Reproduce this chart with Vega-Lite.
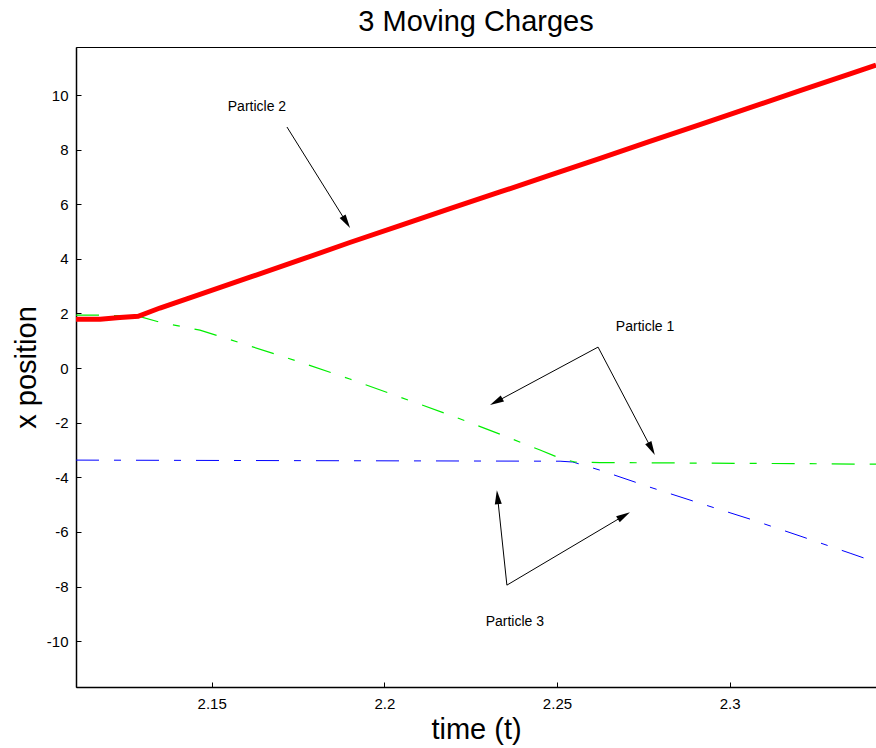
{
  "$schema": "https://vega.github.io/schema/vega-lite/v6.json",
  "width": 800,
  "height": 640,
  "autosize": {"type": "none"},
  "padding": {"left": 76, "top": 47, "right": 0, "bottom": 61},
  "background": "white",
  "config": {
    "font": "Liberation Sans",
    "view": {"stroke": "black", "strokeWidth": 1},
    "axis": {"grid": false, "domainColor": "black", "tickColor": "black", "labelColor": "black", "titleColor": "black", "labelFont": "Liberation Sans", "titleFont": "Liberation Sans", "titleFontWeight": "normal"}
  },
  "title": {"text": "3 Moving Charges", "fontSize": 29, "fontWeight": "normal", "font": "Liberation Sans", "color": "black", "anchor": "middle", "offset": 10},
  "datasets": {
    "lines": [
      {"p": "Particle 2", "t": 2.1107, "x": 1.79},
      {"p": "Particle 2", "t": 2.1177, "x": 1.79},
      {"p": "Particle 2", "t": 2.1234, "x": 1.85},
      {"p": "Particle 2", "t": 2.1287, "x": 1.9},
      {"p": "Particle 2", "t": 2.135, "x": 2.2},
      {"p": "Particle 2", "t": 2.1466, "x": 2.7},
      {"p": "Particle 2", "t": 2.1611, "x": 3.33},
      {"p": "Particle 2", "t": 2.1756, "x": 3.96},
      {"p": "Particle 2", "t": 2.19, "x": 4.6},
      {"p": "Particle 2", "t": 2.2045, "x": 5.22},
      {"p": "Particle 2", "t": 2.219, "x": 5.84},
      {"p": "Particle 2", "t": 2.2335, "x": 6.45},
      {"p": "Particle 2", "t": 2.248, "x": 7.07},
      {"p": "Particle 2", "t": 2.2625, "x": 7.68},
      {"p": "Particle 2", "t": 2.2769, "x": 8.3},
      {"p": "Particle 2", "t": 2.2914, "x": 8.92},
      {"p": "Particle 2", "t": 2.3059, "x": 9.54},
      {"p": "Particle 2", "t": 2.3204, "x": 10.16},
      {"p": "Particle 2", "t": 2.3349, "x": 10.78},
      {"p": "Particle 2", "t": 2.3424, "x": 11.1},
      {"p": "Particle 1", "t": 2.1107, "x": 1.94},
      {"p": "Particle 1", "t": 2.1177, "x": 1.94},
      {"p": "Particle 1", "t": 2.1234, "x": 1.92},
      {"p": "Particle 1", "t": 2.1287, "x": 1.9},
      {"p": "Particle 1", "t": 2.135, "x": 1.68},
      {"p": "Particle 1", "t": 2.1466, "x": 1.39},
      {"p": "Particle 1", "t": 2.1611, "x": 0.81},
      {"p": "Particle 1", "t": 2.1756, "x": 0.22},
      {"p": "Particle 1", "t": 2.19, "x": -0.4},
      {"p": "Particle 1", "t": 2.2045, "x": -1.06},
      {"p": "Particle 1", "t": 2.219, "x": -1.72},
      {"p": "Particle 1", "t": 2.2335, "x": -2.42},
      {"p": "Particle 1", "t": 2.2451, "x": -3.0},
      {"p": "Particle 1", "t": 2.2509, "x": -3.3},
      {"p": "Particle 1", "t": 2.2552, "x": -3.44},
      {"p": "Particle 1", "t": 2.2625, "x": -3.46},
      {"p": "Particle 1", "t": 2.2914, "x": -3.48},
      {"p": "Particle 1", "t": 2.3204, "x": -3.5},
      {"p": "Particle 1", "t": 2.3424, "x": -3.52},
      {"p": "Particle 3", "t": 2.1107, "x": -3.37},
      {"p": "Particle 3", "t": 2.1756, "x": -3.39},
      {"p": "Particle 3", "t": 2.2509, "x": -3.41},
      {"p": "Particle 3", "t": 2.2546, "x": -3.44},
      {"p": "Particle 3", "t": 2.2625, "x": -3.74},
      {"p": "Particle 3", "t": 2.2769, "x": -4.36},
      {"p": "Particle 3", "t": 2.2914, "x": -4.95},
      {"p": "Particle 3", "t": 2.3059, "x": -5.53},
      {"p": "Particle 3", "t": 2.3204, "x": -6.15},
      {"p": "Particle 3", "t": 2.3349, "x": -6.78},
      {"p": "Particle 3", "t": 2.3424, "x": -7.11}
    ],
    "arrows": [
      {"t": 2.1718, "x": 8.83, "t2": 2.189, "x2": 5.344, "angle": 148},
      {"t": 2.2619, "x": 0.769, "t2": 2.2324, "x2": -1.234, "angle": 241.8},
      {"t": 2.2619, "x": 0.769, "t2": 2.2774, "x2": -2.96, "angle": 152.2},
      {"t": 2.2355, "x": -7.949, "t2": 2.2328, "x2": -4.725, "angle": 354},
      {"t": 2.2355, "x": -7.949, "t2": 2.2694, "x2": -5.407, "angle": 59.3}
    ],
    "labels": [
      {"t": 2.1631, "x": 9.56, "label": "Particle 2"},
      {"t": 2.2755, "x": 1.5, "label": "Particle 1"},
      {"t": 2.2378, "x": -9.3, "label": "Particle 3"}
    ]
  },
  "encoding": {
    "x": {"field": "t", "type": "quantitative", "scale": {"domain": [2.1107, 2.3424], "nice": false, "zero": false},
      "axis": {"title": "time (t)", "values": [2.15, 2.2, 2.25, 2.3], "format": "~g", "tickSize": -5, "labelPadding": 14, "labelFontSize": 15, "titleFontSize": 29, "titlePadding": 4, "domainWidth": 1.5}},
    "y": {"field": "x", "type": "quantitative", "scale": {"domain": [-11.68, 11.76], "nice": false, "zero": false},
      "axis": {"title": "x position", "values": [-10, -8, -6, -4, -2, 0, 2, 4, 6, 8, 10], "labelExpr": "datum.value < 0 ? '-' + (-datum.value) : '' + datum.value", "tickSize": -5, "labelPadding": 13, "labelFontSize": 15, "titleFontSize": 29, "titlePadding": 5, "domainWidth": 1.5}}
  },
  "layer": [
    {
      "data": {"name": "lines"},
      "transform": [{"filter": "datum.p == 'Particle 3'"}],
      "mark": {"type": "line", "color": "#0000ff", "strokeWidth": 1, "strokeDash": [23, 15, 7, 15]}
    },
    {
      "data": {"name": "lines"},
      "transform": [{"filter": "datum.p == 'Particle 1'"}],
      "mark": {"type": "line", "color": "#00ee00", "strokeWidth": 1.2, "strokeDash": [23, 15, 7, 15]}
    },
    {
      "data": {"name": "lines"},
      "transform": [{"filter": "datum.p == 'Particle 2'"}],
      "mark": {"type": "line", "color": "#ff0000", "strokeWidth": 5}
    },
    {
      "data": {"name": "arrows"},
      "mark": {"type": "rule", "color": "black", "strokeWidth": 1},
      "encoding": {"x2": {"field": "t2"}, "y2": {"field": "x2"}}
    },
    {
      "data": {"name": "arrows"},
      "mark": {"type": "point", "shape": "M0,-1L0.5,1L-0.5,1Z", "filled": true, "color": "black", "opacity": 1, "size": 196},
      "encoding": {
        "x": {"field": "t2", "type": "quantitative"},
        "y": {"field": "x2", "type": "quantitative"},
        "angle": {"field": "angle", "type": "quantitative", "scale": null}
      }
    },
    {
      "data": {"name": "labels"},
      "mark": {"type": "text", "fontSize": 14, "font": "Liberation Sans", "color": "black"},
      "encoding": {"text": {"field": "label"}}
    }
  ]
}
